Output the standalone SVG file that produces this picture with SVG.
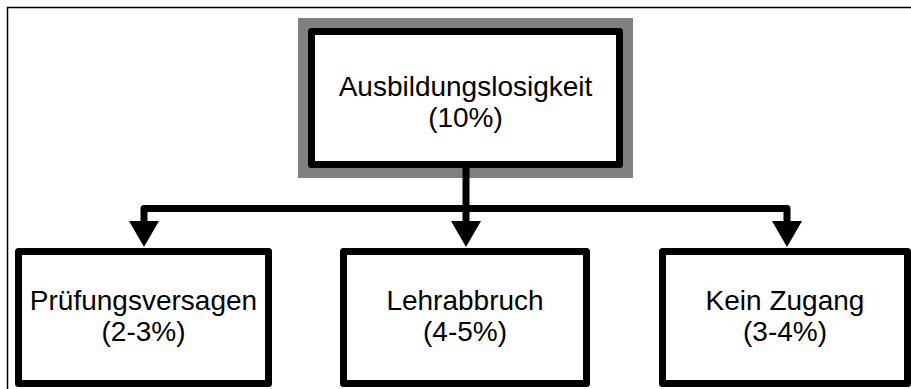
<svg xmlns="http://www.w3.org/2000/svg" width="911" height="389" viewBox="0 0 911 389">
<style>
.box{fill:#fff;stroke:#000;stroke-width:7;stroke-linejoin:round}
.lbl{font-family:"Liberation Sans",Arial,sans-serif;font-size:28px;fill:#000;text-anchor:middle}
.conn{fill:none;stroke:#000;stroke-width:7;stroke-linejoin:round}
.frame{fill:none;stroke:#000;stroke-width:1.5}
</style>
<defs>
<marker id="arr" markerUnits="userSpaceOnUse" markerWidth="26" markerHeight="30" viewBox="0 0 26 30" refX="9" refY="15" orient="auto">
<path d="M0,0 L26,15 L0,30 Z" fill="#000"/>
</marker>
</defs>
<rect width="911" height="389" fill="#fff"/>
<path class="frame" d="M7.5,389 V7.5 H911"/>
<g id="node-root">
<rect x="298" y="18" width="335" height="160" fill="#808080"/>
<rect class="box" x="311.5" y="31.5" width="308" height="133"/>
<text class="lbl" x="465.5" y="96">Ausbildungslosigkeit</text>
<text class="lbl" x="465.5" y="127">(10%)</text>
</g>
<g id="node-pruefung">
<rect class="box" x="18.5" y="251.5" width="250" height="132"/>
<text class="lbl" x="143.5" y="310">Prüfungsversagen</text>
<text class="lbl" x="143.5" y="341">(2-3%)</text>
</g>
<g id="node-lehrabbruch">
<rect class="box" x="343.5" y="251.5" width="243" height="132"/>
<text class="lbl" x="465" y="310">Lehrabbruch</text>
<text class="lbl" x="465" y="341">(4-5%)</text>
</g>
<g id="node-keinzugang">
<rect class="box" x="662.5" y="251.5" width="245" height="132"/>
<text class="lbl" x="785" y="310">Kein Zugang</text>
<text class="lbl" x="785" y="341">(3-4%)</text>
</g>
<g id="connectors">
<path class="conn" d="M466,168 V208.5 H144 V230" marker-end="url(#arr)"/>
<path class="conn" d="M466,208.5 V230" marker-end="url(#arr)"/>
<path class="conn" d="M466,208.5 H787 V230" marker-end="url(#arr)"/>
</g>
</svg>
